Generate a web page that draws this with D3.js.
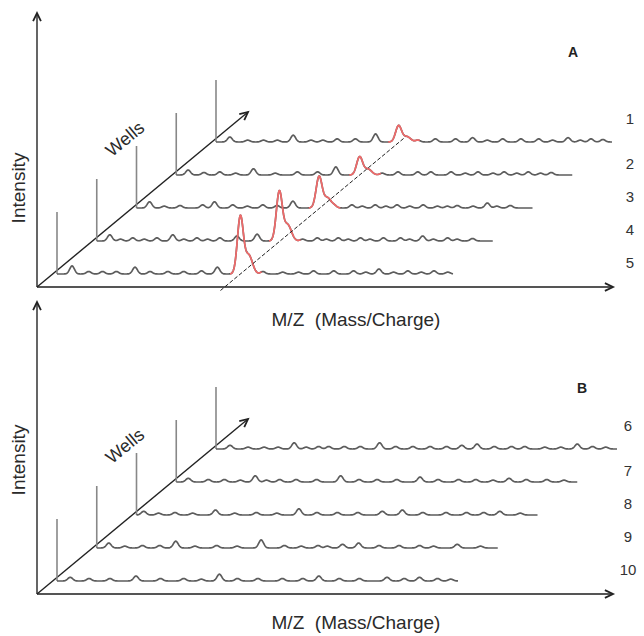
<!DOCTYPE html>
<html>
  <head>
    <meta charset="UTF-8">
    <style>
      html, body { margin: 0; padding: 0; background: #fff; }
      svg { display: block; font-family: "Liberation Sans", Arial, sans-serif; }
    </style>
    <script src="https://d3js.org/d3.v7.min.js"></script>
  </head>
  <body>
    <div id="viz"></div>
    <script>
      // ---- data: [m/z, intensity] for each small peak (100 = reference spike)
      const wellsA = ["1", "2", "3", "4", "5"];
      const wellsB = ["6", "7", "8", "9", "10"];

      const s1 = [[3.5,8],[8,3],[12,3],[15.5,3],[19.5,11],[24,3],[27,3],[30.6,5],[35.2,5],[40.3,13],[51,3],[55.4,5],[60.5,5],[64.8,7],[68.5,3],[72.4,5],[77,5],[81.5,5],[85,3],[88.9,7],[92,3],[94.7,5],[97.7,4]];
      const s2 = [[3,8],[7,4],[11,5],[15,3],[19.5,10],[25,3],[30.6,5],[35.7,5],[40.3,13],[52,3],[56,5],[61,5],[64.3,5],[69.4,5],[73,3],[76.2,5],[80,3],[82.8,5],[86,3],[88.9,5],[92,3],[94.7,4]];
      const s3 = [[3.3,10],[7,3],[11,4],[16.7,5],[19.7,10],[24.3,5],[28,3],[31.9,5],[35.5,4],[39.5,11],[50,3],[54.4,5],[57,3],[60.3,5],[63,3],[65.8,5],[69,3],[72.4,5],[76,3],[78.5,3],[81,4],[85,3],[88.6,8],[91,3],[94.4,4]];
      const s4 = [[3.3,10],[6,3],[9.1,5],[12,3],[15.2,5],[19.2,10],[22,3],[25.3,5],[28,3],[31.1,5],[35.4,8],[40.5,11],[52,3],[55.7,5],[58,3],[61,5],[63.5,3],[66.6,5],[69,3],[72.4,5],[76.7,5],[79,3],[82.3,8],[85,3],[88.6,5],[91,3],[94.9,4]];
      const s5 = [[3.8,13],[8,4],[11.5,4],[15,4],[19.7,11],[23.5,4],[28,4],[32,4],[36.5,5],[40.5,11],[52,4],[57,3],[61,3],[64.8,5],[69.9,5],[74.9,5],[78,3],[81.3,8],[85,3],[88.6,5],[92,3],[95.2,5],[98.7,3]];

      const s6 = [[3.5,6],[8,3],[12,3],[15.5,3],[19.5,10],[22.5,3],[25.6,4],[28.1,4],[32,4],[36,4],[40.8,10],[44.8,4],[49.1,4],[53.4,4],[57.5,4],[61.3,6],[65.1,8],[69.4,4],[73.7,4],[77,4],[82,3],[86,3],[90.1,8],[93.9,4],[97.2,3]];
      const s7 = [[3,6],[8,4],[12,4],[16,3],[19.7,10],[22.5,3],[25.8,4],[29.9,4],[35,4],[41,10],[45.6,4],[50.1,4],[55,4],[60.8,8],[65.3,4],[70.4,4],[74.7,4],[79,3],[83,6],[87.3,4],[92.4,4],[96.7,3]];
      const s8 = [[1.8,6],[5.5,3],[9.6,4],[14,3],[19.7,8],[24.5,3],[29.9,4],[35,3],[40.5,10],[45,4],[50.1,4],[55.2,4],[61.3,6],[66.3,8],[71.4,4],[77.2,4],[82.3,4],[86.6,4],[90.6,6],[95.7,3]];
      const s9 = [[3,8],[7,3],[11.4,4],[15.7,4],[19.7,11],[24.5,3],[29.9,4],[35,3],[41,13],[46.8,4],[51,3],[55.2,4],[57.5,3],[61.3,6],[65.3,8],[70.4,4],[75.4,4],[80.5,4],[84,3],[89.9,6],[95.7,3]];
      const s10 = [[3.3,6],[8,4],[13.2,4],[19.7,8],[25.8,4],[31.6,4],[36,3],[40.5,11],[45,4],[50.1,4],[56.2,4],[61.3,4],[65.3,8],[70.4,4],[75.4,4],[82.3,6],[86.6,4],[90.4,6],[94.9,4],[98.2,3]];

      // highlighted (red) peak in panel A, per well 1..5
      const redMzA = [46.1, 46.3, 46.1, 46.1, 46.3];
      const redHeightA = [26, 29, 50, 79, 92];
      const spikeHeight = 100;
      const dashedMz = 46.3;

      const width = 644, height = 636;

      const svg = d3.select("#viz").append("svg")
          .attr("width", width)
          .attr("height", height);

      const gauss = (m, c, h, s) => h * Math.exp(-0.5 * ((m - c) / s) ** 2);
      const redShape = (m, c, h) => gauss(m, c, h, 0.75) + gauss(m, c + 2.1, h * 0.33, 0.95);

      function arrowHead(g, x, y, ang) {
        const a = 0.45, L = 9;
        g.append("path")
          .attr("d", `M${x - L * Math.cos(ang - a)},${y - L * Math.sin(ang - a)}L${x},${y}L${x - L * Math.cos(ang + a)},${y - L * Math.sin(ang + a)}`)
          .attr("fill", "none")
          .attr("stroke", "#222")
          .attr("stroke-width", 1.8);
      }

      function drawPanel(p) {
        const g = svg.append("g").attr("transform", `translate(${p.ox},${p.oy})`);

        const x = d3.scaleLinear().domain([0, 100]).range([0, p.rowLen]);
        const y = d3.scaleLinear().domain([0, 100]).range([0, -62]);
        const depthX = d3.scaleLinear().domain([0, 4]).range([20, 179]);
        const depthY = d3.scaleLinear().domain([0, 4]).range([-13, -145]);

        // axes
        g.append("line").attr("x1", 0).attr("y1", 0).attr("x2", 0).attr("y2", p.top - p.oy)
          .attr("stroke", "#555").attr("stroke-width", 1.8);
        arrowHead(g, 0, p.top - p.oy, -Math.PI / 2);
        g.append("line").attr("x1", 0).attr("y1", 0).attr("x2", p.right - p.ox).attr("y2", 0)
          .attr("stroke", "#555").attr("stroke-width", 1.8);
        arrowHead(g, p.right - p.ox, 0, 0);

        // wells axis (diagonal)
        const tip = [211, -175];
        g.append("line").attr("x1", 0).attr("y1", 0).attr("x2", tip[0]).attr("y2", tip[1])
          .attr("stroke", "#222").attr("stroke-width", 1.4);
        arrowHead(g, tip[0], tip[1], Math.atan2(tip[1], tip[0]));

        const line = d3.line().x(d => x(d[0])).y(d => y(d[1]));
        const ms = d3.range(0, 100.01, 0.1);

        p.spectra.forEach((peaks, i) => {
          const depth = 4 - i;
          const row = g.append("g")
              .attr("transform", `translate(${depthX(depth)},${depthY(depth)})`);

          const red = p.redMz ? [p.redMz[i], p.redHeight[i]] : null;
          const val = m => {
            let v = d3.sum(peaks, d => gauss(m, d[0], d[1], 0.6));
            if (red) v += redShape(m, red[0], red[1]);
            return v;
          };

          // reference spike at the start of each spectrum
          row.append("line")
            .attr("x1", x(0)).attr("x2", x(0))
            .attr("y1", 0).attr("y2", y(spikeHeight))
            .attr("stroke", "#888").attr("stroke-width", 1.6);

          row.append("path")
            .attr("d", line(ms.map(m => [m, val(m)])))
            .attr("fill", "none")
            .attr("stroke", "#5c5c5c")
            .attr("stroke-width", 1.7);

          if (red) {
            const rm = d3.range(red[0] - 2.6, red[0] + 5.4, 0.05);
            row.append("path")
              .attr("d", line(rm.map(m => [m, val(m)])))
              .attr("fill", "none")
              .attr("stroke", "#f06a6a")
              .attr("stroke-width", 1.7);
          }

          g.append("text")
            .attr("x", p.labelX - p.ox)
            .attr("y", depthY(depth) + (depth === 4 ? -24 : -12))
            .attr("text-anchor", "middle")
            .attr("dominant-baseline", "central")
            .attr("font-size", 15)
            .attr("fill", "#333")
            .text(p.wells[i]);
        });

        if (p.dashed) {
          g.append("line")
            .attr("x1", depthX(-0.5) + x(dashedMz)).attr("y1", depthY(-0.5))
            .attr("x2", depthX(4.15) + x(dashedMz)).attr("y2", depthY(4.15))
            .attr("stroke", "#222")
            .attr("stroke-width", 1)
            .attr("stroke-dasharray", "4,2");
        }

        // titles
        g.append("text")
          .attr("transform", `translate(${18 - p.ox},${p.intensityY - p.oy}) rotate(-90)`)
          .attr("text-anchor", "middle")
          .attr("dominant-baseline", "central")
          .attr("font-size", 19)
          .attr("fill", "#2a2a2a")
          .text("Intensity");

        g.append("text")
          .attr("transform", `translate(88,-148) rotate(-39.7)`)
          .attr("text-anchor", "middle")
          .attr("dominant-baseline", "central")
          .attr("font-size", 18)
          .attr("fill", "#2a2a2a")
          .text("Wells");

        g.append("text")
          .attr("x", 356 - p.ox)
          .attr("y", p.mzY - p.oy)
          .attr("text-anchor", "middle")
          .attr("dominant-baseline", "central")
          .attr("font-size", 19)
          .attr("fill", "#2a2a2a")
          .text("M/Z\u00a0 (Mass/Charge)");

        g.append("text")
          .attr("x", p.letter[0] - p.ox)
          .attr("y", p.letter[1] - p.oy)
          .attr("text-anchor", "middle")
          .attr("dominant-baseline", "central")
          .attr("font-size", 14)
          .attr("font-weight", "bold")
          .attr("fill", "#222")
          .text(p.name);
      }

      drawPanel({name: "A", ox: 37, oy: 287, top: 13, right: 613, rowLen: 396,
        spectra: [s1, s2, s3, s4, s5], wells: wellsA, redMz: redMzA, redHeight: redHeightA,
        dashed: true, labelX: 630, intensityY: 188, mzY: 319, letter: [573, 52]});

      drawPanel({name: "B", ox: 37, oy: 594, top: 302, right: 613, rowLen: 401,
        spectra: [s6, s7, s8, s9, s10], wells: wellsB,
        dashed: false, labelX: 628, intensityY: 460, mzY: 622, letter: [582, 388]});
    </script>
  </body>
</html>
